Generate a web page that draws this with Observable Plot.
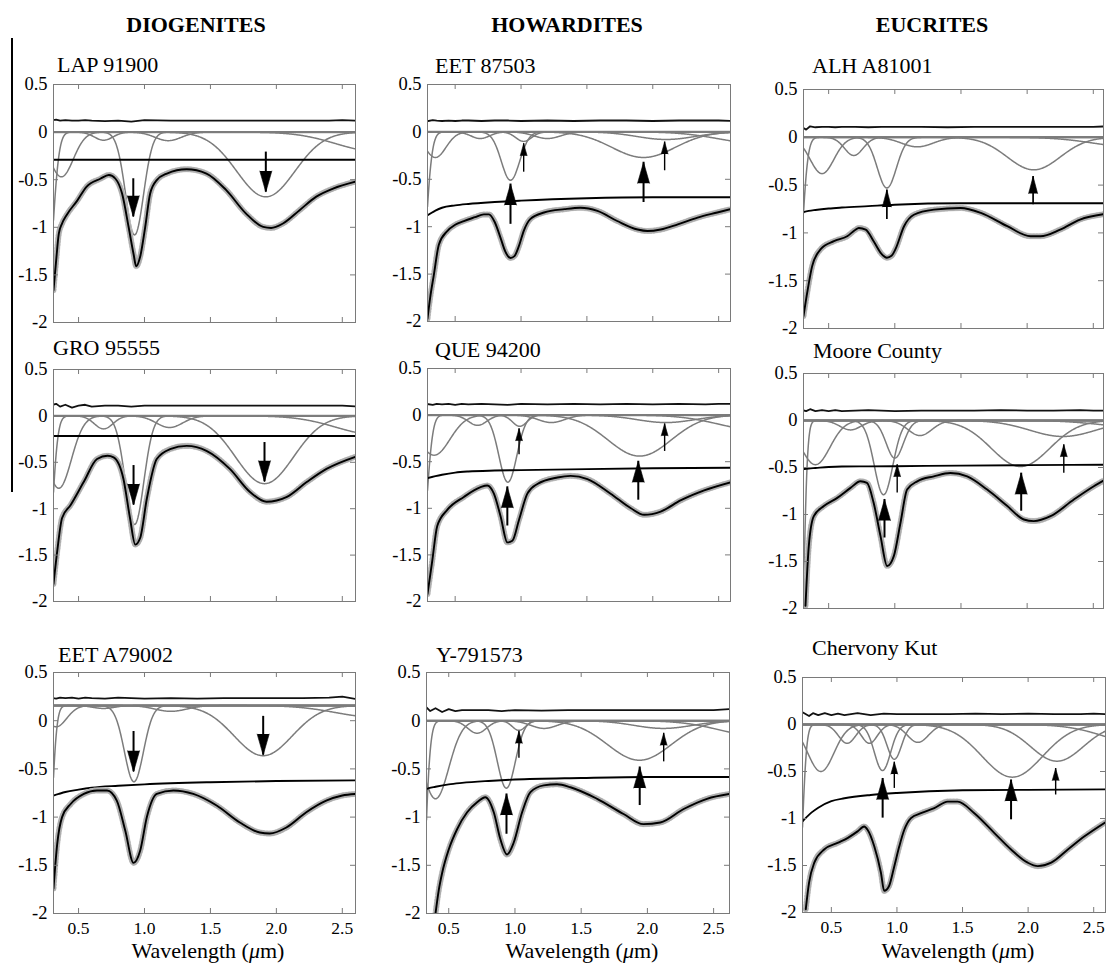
<!DOCTYPE html>
<html><head><meta charset="utf-8">
<script src="https://cdn.jsdelivr.net/npm/d3@7"></script>
<script src="https://cdn.jsdelivr.net/npm/@observablehq/plot@0.6"></script>
<style>
body{margin:0;background:#fff;}
#fig{position:relative;width:1108px;height:973px;overflow:hidden;background:#fff;font-family:"Liberation Serif","Times New Roman",serif;color:#000;}
.t{position:absolute;white-space:nowrap;font-size:22px;line-height:22px;}
.h{font-weight:bold;text-align:center;width:300px;}
.xl{text-align:center;width:300px;}
.panel{position:absolute;}
.artifact{position:absolute;left:11px;top:38px;width:1.5px;height:454px;background:#000;}
</style></head><body><div id="fig"><div class="artifact"></div></div>
<script>
// ---------- chart values ----------
const classNames = ["DIOGENITES", "HOWARDITES", "EUCRITES"];
const meteorites = ["LAP 91900", "EET 87503", "ALH A81001", "GRO 95555", "QUE 94200", "Moore County", "EET A79002", "Y-791573", "Chervony Kut"];
const xTicks = [0.5, 1.0, 1.5, 2.0, 2.5];
const yTicks = [0.5, 0, -0.5, -1, -1.5, -2];
const xDomains = [[0.31,2.6],[0.29,2.59],[0.31,2.577],[0.31,2.6],[0.29,2.59],[0.31,2.577],[0.31,2.6],[0.332,2.62],[0.28,2.59]];

// MGM fitted spectrum (ln reflectance)
const fitX = [
  [0.31,0.33,0.35,0.375,0.41,0.49,0.56,0.665,0.73,0.78,0.83,0.88,0.917,0.937,0.967,1.005,1.043,1.093,1.17,1.32,1.47,1.62,1.77,1.9,1.96,2.05,2.176,2.3,2.43,2.6],
  [0.29,0.31,0.338,0.376,0.44,0.5,0.566,0.65,0.718,0.756,0.8,0.845,0.88,0.92,0.95,0.985,1.02,1.07,1.175,1.33,1.45,1.58,1.73,1.885,1.96,2.06,2.19,2.34,2.49,2.59],
  [0.31,0.338,0.375,0.44,0.54,0.64,0.7,0.728,0.78,0.84,0.9,0.94,0.975,1.005,1.07,1.144,1.295,1.497,1.65,1.85,2.025,2.1,2.25,2.4,2.577],
  [0.31,0.338,0.375,0.44,0.54,0.64,0.72,0.766,0.84,0.89,0.93,0.967,1.018,1.093,1.194,1.32,1.47,1.647,1.8,1.925,2.08,2.23,2.38,2.6],
  [0.29,0.325,0.364,0.44,0.566,0.693,0.744,0.794,0.845,0.896,0.934,0.985,1.048,1.124,1.276,1.377,1.504,1.68,1.834,1.935,2.06,2.214,2.39,2.59],
  [0.325,0.35,0.388,0.464,0.565,0.665,0.74,0.79,0.84,0.892,0.942,0.993,1.043,1.093,1.17,1.295,1.42,1.547,1.698,1.85,1.975,2.05,2.177,2.353,2.504,2.577],
  [0.31,0.338,0.375,0.44,0.54,0.64,0.716,0.79,0.854,0.917,0.967,1.018,1.093,1.22,1.37,1.547,1.723,1.874,1.95,2.076,2.227,2.378,2.5,2.6],
  [0.4,0.425,0.45,0.5,0.563,0.639,0.714,0.777,0.84,0.89,0.94,0.99,1.054,1.117,1.217,1.318,1.419,1.62,1.82,1.97,2.098,2.274,2.45,2.62],
  [0.305,0.33,0.37,0.445,0.547,0.623,0.7,0.75,0.776,0.827,0.878,0.903,0.94,0.98,1.018,1.056,1.107,1.183,1.285,1.387,1.463,1.59,1.743,1.87,1.997,2.074,2.176,2.303,2.43,2.59]
];
const fitY = [
  [-1.66,-1.35,-1.07,-0.96,-0.87,-0.72,-0.575,-0.49,-0.45,-0.49,-0.645,-1.0,-1.28,-1.41,-1.31,-1.0,-0.645,-0.505,-0.435,-0.39,-0.435,-0.61,-0.856,-0.996,-1.007,-0.96,-0.82,-0.68,-0.593,-0.52],
  [-1.97,-1.75,-1.51,-1.19,-1.046,-0.98,-0.94,-0.9,-0.87,-0.87,-0.95,-1.12,-1.26,-1.33,-1.31,-1.2,-1.046,-0.92,-0.85,-0.815,-0.8,-0.833,-0.94,-1.03,-1.046,-1.03,-0.975,-0.904,-0.85,-0.815],
  [-1.87,-1.625,-1.35,-1.17,-1.087,-1.035,-0.97,-0.948,-0.965,-1.087,-1.22,-1.26,-1.24,-1.17,-0.93,-0.81,-0.757,-0.74,-0.79,-0.93,-1.035,-1.035,-0.965,-0.86,-0.805],
  [-1.81,-1.46,-1.1,-0.96,-0.71,-0.465,-0.43,-0.447,-0.677,-1.1,-1.387,-1.316,-0.89,-0.465,-0.358,-0.323,-0.376,-0.571,-0.82,-0.925,-0.872,-0.713,-0.571,-0.44],
  [-1.92,-1.575,-1.19,-1.017,-0.878,-0.773,-0.756,-0.843,-1.087,-1.366,-1.348,-1.122,-0.843,-0.739,-0.669,-0.652,-0.686,-0.843,-1.0,-1.07,-1.035,-0.913,-0.808,-0.721],
  [-1.97,-1.336,-1.018,-0.91,-0.823,-0.717,-0.647,-0.664,-0.876,-1.23,-1.548,-1.44,-1.088,-0.735,-0.647,-0.594,-0.558,-0.594,-0.735,-0.91,-1.053,-1.07,-1.018,-0.841,-0.7,-0.64],
  [-1.74,-1.28,-1.0,-0.864,-0.76,-0.724,-0.724,-0.83,-1.14,-1.475,-1.35,-1.0,-0.76,-0.724,-0.76,-0.88,-1.056,-1.16,-1.17,-1.108,-0.95,-0.83,-0.776,-0.76],
  [-2.0,-1.755,-1.58,-1.336,-1.126,-0.95,-0.846,-0.794,-0.95,-1.23,-1.388,-1.266,-0.95,-0.741,-0.671,-0.66,-0.69,-0.81,-0.968,-1.073,-1.056,-0.916,-0.81,-0.76],
  [-1.965,-1.683,-1.47,-1.33,-1.26,-1.208,-1.137,-1.085,-1.12,-1.296,-1.577,-1.77,-1.718,-1.507,-1.296,-1.12,-0.996,-0.944,-0.89,-0.82,-0.82,-0.944,-1.155,-1.33,-1.47,-1.507,-1.47,-1.33,-1.19,-1.04]
];

// continuum (black line)
const contX = [0.28,0.35,0.4,0.5,0.6,0.8,1.0,1.5,2.0,2.62];
const contY = [
  [-0.29,-0.29,-0.29,-0.29,-0.29,-0.29,-0.29,-0.29,-0.29,-0.29],
  [-0.89,-0.83,-0.80,-0.775,-0.76,-0.74,-0.725,-0.70,-0.69,-0.69],
  [-0.795,-0.77,-0.76,-0.745,-0.735,-0.72,-0.705,-0.69,-0.69,-0.69],
  [-0.216,-0.216,-0.216,-0.216,-0.216,-0.216,-0.216,-0.216,-0.216,-0.216],
  [-0.68,-0.655,-0.64,-0.617,-0.605,-0.595,-0.59,-0.58,-0.571,-0.565],
  [-0.525,-0.51,-0.505,-0.495,-0.49,-0.488,-0.486,-0.48,-0.475,-0.47],
  [-0.79,-0.76,-0.74,-0.715,-0.695,-0.675,-0.66,-0.638,-0.626,-0.619],
  [-0.74,-0.70,-0.685,-0.66,-0.645,-0.625,-0.61,-0.594,-0.584,-0.584],
  [-1.03,-0.935,-0.885,-0.815,-0.785,-0.75,-0.728,-0.70,-0.695,-0.69]
];

// residual (offset, top black line)
const residX = [0.28,0.33,0.36,0.40,0.45,0.50,0.55,0.60,0.70,0.80,0.90,1.00,1.20,1.40,1.60,1.80,2.00,2.20,2.40,2.50,2.62];
const residY = [
  [0.12,0.13,0.12,0.125,0.12,0.12,0.125,0.12,0.115,0.12,0.11,0.125,0.12,0.12,0.12,0.12,0.12,0.12,0.12,0.125,0.12],
  [0.11,0.125,0.12,0.115,0.12,0.115,0.12,0.12,0.115,0.12,0.12,0.115,0.12,0.115,0.12,0.12,0.115,0.12,0.12,0.12,0.115],
  [0.12,0.08,0.115,0.105,0.11,0.11,0.105,0.11,0.11,0.105,0.11,0.11,0.11,0.105,0.11,0.11,0.11,0.11,0.11,0.11,0.115],
  [0.11,0.13,0.10,0.12,0.09,0.11,0.12,0.10,0.11,0.11,0.10,0.11,0.11,0.11,0.11,0.11,0.11,0.11,0.11,0.11,0.10],
  [0.12,0.11,0.12,0.115,0.12,0.11,0.12,0.115,0.12,0.115,0.11,0.12,0.115,0.12,0.115,0.12,0.115,0.12,0.115,0.12,0.12],
  [0.12,0.10,0.12,0.10,0.11,0.10,0.11,0.10,0.105,0.11,0.105,0.10,0.105,0.105,0.105,0.11,0.105,0.105,0.11,0.105,0.105],
  [0.24,0.23,0.24,0.235,0.24,0.23,0.24,0.235,0.23,0.24,0.235,0.23,0.235,0.23,0.235,0.235,0.235,0.235,0.24,0.25,0.22],
  [0.10,0.14,0.10,0.13,0.09,0.12,0.10,0.11,0.11,0.11,0.10,0.11,0.105,0.11,0.11,0.11,0.11,0.11,0.11,0.11,0.12],
  [0.13,0.09,0.12,0.10,0.12,0.10,0.115,0.10,0.12,0.10,0.115,0.11,0.11,0.11,0.115,0.11,0.115,0.11,0.11,0.115,0.11]
];

// Gaussian band parameters: baseline, centre (um), depth, width (um)
const gaussBase = [0,0,0,0,0,0,0.157,0,0];
const bandCenter = [
  [0.25,0.37,0.69,0.925,1.18,1.92,2.75],
  [0.22,0.35,0.69,0.92,1.02,1.2,1.93,2.1,2.8],
  [0.25,0.45,0.69,0.94,1.17,2.05,2.8],
  [0.25,0.35,0.69,0.925,1.19,1.91,2.75],
  [0.24,0.34,0.67,0.9,0.99,1.23,1.9,2.1,2.8],
  [0.26,0.4,0.665,0.915,1.0,1.19,1.95,2.27,2.85],
  [0.25,0.33,0.69,0.92,1.2,1.9,2.75],
  [0.26,0.4,0.714,0.935,1.03,1.22,1.94,2.12,2.85],
  [0.24,0.42,0.62,0.79,0.89,0.98,1.16,1.88,2.22,2.9]
];
const bandDepth = [
  [1.9,0.47,0.085,1.08,0.09,0.68,0.2],
  [2.1,0.27,0.07,0.51,0.1,0.07,0.27,0.08,0.12],
  [1.93,0.38,0.19,0.53,0.1,0.34,0.1],
  [2.0,0.78,0.14,1.17,0.125,0.73,0.2],
  [1.5,0.43,0.11,0.72,0.12,0.08,0.44,0.08,0.16],
  [5.5,0.47,0.1,0.79,0.4,0.16,0.49,0.17,0.07],
  [2.3,0.22,0.03,0.79,0.06,0.52,0.12],
  [3.7,0.81,0.13,0.7,0.1,0.08,0.41,0.08,0.16],
  [2.1,0.5,0.2,0.2,0.49,0.37,0.19,0.56,0.39,0.22]
];
const bandWidth = [
  [0.05,0.09,0.07,0.068,0.1,0.22,0.3],
  [0.05,0.08,0.07,0.07,0.06,0.1,0.24,0.22,0.3],
  [0.045,0.09,0.07,0.072,0.12,0.2,0.3],
  [0.045,0.095,0.07,0.07,0.1,0.22,0.3],
  [0.045,0.12,0.07,0.068,0.055,0.1,0.24,0.22,0.3],
  [0.035,0.11,0.08,0.07,0.065,0.09,0.22,0.25,0.3],
  [0.04,0.08,0.08,0.072,0.12,0.22,0.3],
  [0.045,0.1,0.07,0.068,0.05,0.1,0.24,0.22,0.3],
  [0.035,0.1,0.065,0.06,0.062,0.055,0.08,0.23,0.2,0.3]
];

// arrows: x, tail, tip, size (L large, M medium, S small)
const arrowX = [[0.915,1.92],[0.92,1.02,1.93,2.09],[0.94,2.045],[0.917,1.91],[0.896,0.985,1.89,2.09],[0.922,1.018,1.955,2.277],[0.917,1.9],[0.936,1.03,1.942,2.123],[0.891,0.98,1.87,2.21]];
const arrowTail = [[-0.49,-0.21],[-0.975,-0.425,-0.745,-0.41],[-0.86,-0.705],[-0.535,-0.287],[-1.19,-0.425,-0.913,-0.39],[-1.25,-0.77,-0.965,-0.56],[-0.112,0.045],[-1.178,-0.39,-0.88,-0.427],[-0.996,-0.68,-1.014,-0.75]];
const arrowTip = [[-0.89,-0.63],[-0.55,-0.124,-0.32,-0.106],[-0.55,-0.41],[-0.96,-0.71],[-0.77,-0.146,-0.495,-0.094],[-0.84,-0.47,-0.56,-0.258],[-0.53,-0.357],[-0.76,-0.11,-0.48,-0.13],[-0.574,-0.40,-0.59,-0.468]];
const arrowSize = [["L","L"],["L","S","L","S"],["M","M"],["L","L"],["L","S","L","S"],["L","S","L","S"],["L","L"],["L","S","L","S"],["L","S","L","S"]];

// ---------- layout (pixels) ----------
const frames = [[53,84,355,322],[427,84,730,321],[803,89,1103,328],[53,369,355,601],[427,368,730,601],[803,373,1103,608],[53,672,355,913],[426,672,729,913],[802,677,1105,912]];
const titlePos = [[57,72],[435,73],[812,73],[53,355],[435,357],[813,358],[58,662],[436,662],[812,655]];
const headerCenter = [196, 567, 932];
const xLabelCenter = [208, 582, 958];

const fig = document.getElementById("fig");
const headLen = {L: 21, M: 17, S: 12}, headR = {L: 6, M: 4.5, S: 3.4}, shaftW = {L: 2, M: 1.7, S: 1.4};
const frameColor = "#7a7a7a";
const serif = "'Liberation Serif','Times New Roman',serif";

function addText(cls, html, left, baseline) {
  const d = document.createElement("div");
  d.className = "t " + cls;
  d.innerHTML = html;
  d.style.left = left + "px";
  d.style.top = (baseline - 18.4) + "px";
  fig.appendChild(d);
}

classNames.forEach((c, j) => addText("h", c, headerCenter[j] - 150, 32));

meteorites.forEach((name, i) => {
  const [L, T, R, B] = frames[i];
  const w = R - L, h = B - T;
  const bottomRow = i >= 6;
  const mL = 52, mR = 8, mT = 12, mB = bottomRow ? 36 : 12;
  const [x0, x1] = xDomains[i];

  const fit = fitX[i].map((x, j) => ({x, y: fitY[i][j]}));
  const cont = contX.map((x, j) => ({x, y: contY[i][j]}));
  const resid = residX.map((x, j) => ({x, y: residY[i][j]}));
  const gauss = [];
  bandCenter[i].forEach((c, k) => {
    const dep = bandDepth[i][k], s = bandWidth[i][k];
    for (let x = x0; x <= x1 + 1e-9; x += 0.004) {
      gauss.push({band: k, x, y: gaussBase[i] - dep * Math.exp(-0.5 * ((x - c) / s) ** 2)});
    }
  });
  const arrows = arrowX[i].map((x, k) => ({x, tail: arrowTail[i][k], tip: arrowTip[i][k], size: arrowSize[i][k]}));

  const arrowMarks = [];
  ["L", "M", "S"].forEach(s => {
    const a = arrows.filter(d => d.size === s);
    if (!a.length) return;
    arrowMarks.push(Plot.ruleX(a, {x: "x", y1: "tail", y2: "tip", stroke: "#000", strokeWidth: shaftW[s]}));
    arrowMarks.push(Plot.vector(a, {x: "x", y: "tip", length: headLen[s], rotate: d => d.tip > d.tail ? 0 : 180,
      anchor: "end", shape: "spike", r: headR[s], fill: "#000", stroke: "#000", strokeWidth: 0.6}));
  });

  const svg = Plot.plot({
    width: w + mL + mR, height: h + mT + mB,
    marginLeft: mL, marginRight: mR, marginTop: mT, marginBottom: mB,
    x: {domain: [x0, x1], axis: bottomRow ? undefined : null},
    y: {domain: [-2, 0.5]},
    style: {fontFamily: serif, fontSize: "17px", background: "transparent", color: "#000", overflow: "visible"},
    marks: [
      Plot.ruleY([gaussBase[i]], {stroke: "#8a8a8a", strokeWidth: 2.2}),
      Plot.line(gauss, {x: "x", y: "y", z: "band", stroke: "#7c7c7c", strokeWidth: 1.5, clip: true}),
      Plot.line(resid, {x: "x", y: "y", stroke: "#111", strokeWidth: 1.8, clip: true}),
      Plot.line(cont, {x: "x", y: "y", stroke: "#000", strokeWidth: 1.9, curve: "monotone-x", clip: true}),
      Plot.line(fit, {x: "x", y: "y", stroke: "#d6d6d6", strokeWidth: 6, curve: "monotone-x", clip: true}),
      Plot.line(fit, {x: "x", y: "y", stroke: "#adadad", strokeWidth: 5.5, strokeDasharray: "1 2.2", curve: "monotone-x", clip: true}),
      Plot.line(fit, {x: "x", y: "y", stroke: "#000", strokeWidth: 1.9, curve: "monotone-x", clip: true}),
      ...arrowMarks,
      Plot.frame({stroke: frameColor}),
      Plot.ruleX(xTicks, {x: d => d, insetTop: h - 5, stroke: frameColor}),
      Plot.ruleX(xTicks, {x: d => d, insetBottom: h - 5, stroke: frameColor}),
      Plot.ruleY(yTicks, {y: d => d, insetRight: w - 5, stroke: frameColor}),
      Plot.ruleY(yTicks, {y: d => d, insetLeft: w - 5, stroke: frameColor}),
      Plot.axisY(yTicks, {anchor: "left", tickSize: 0, tickPadding: 6, fontSize: 18.5, fontFamily: serif, tickFormat: d => String(d), label: null}),
      bottomRow ? Plot.axisX(xTicks, {anchor: "bottom", tickSize: 0, tickPadding: 8, fontSize: 17.5, fontFamily: serif, tickFormat: d => d.toFixed(1), label: null}) : null
    ]
  });
  svg.classList.add("panel");
  svg.style.position = "absolute";
  svg.style.left = (L - mL) + "px";
  svg.style.top = (T - mT) + "px";
  fig.appendChild(svg);

  addText("", name, titlePos[i][0], titlePos[i][1]);
  if (bottomRow) addText("xl", "Wavelength (<i>μ</i>m)", xLabelCenter[i - 6] - 150, 958);
});
</script></body></html>
